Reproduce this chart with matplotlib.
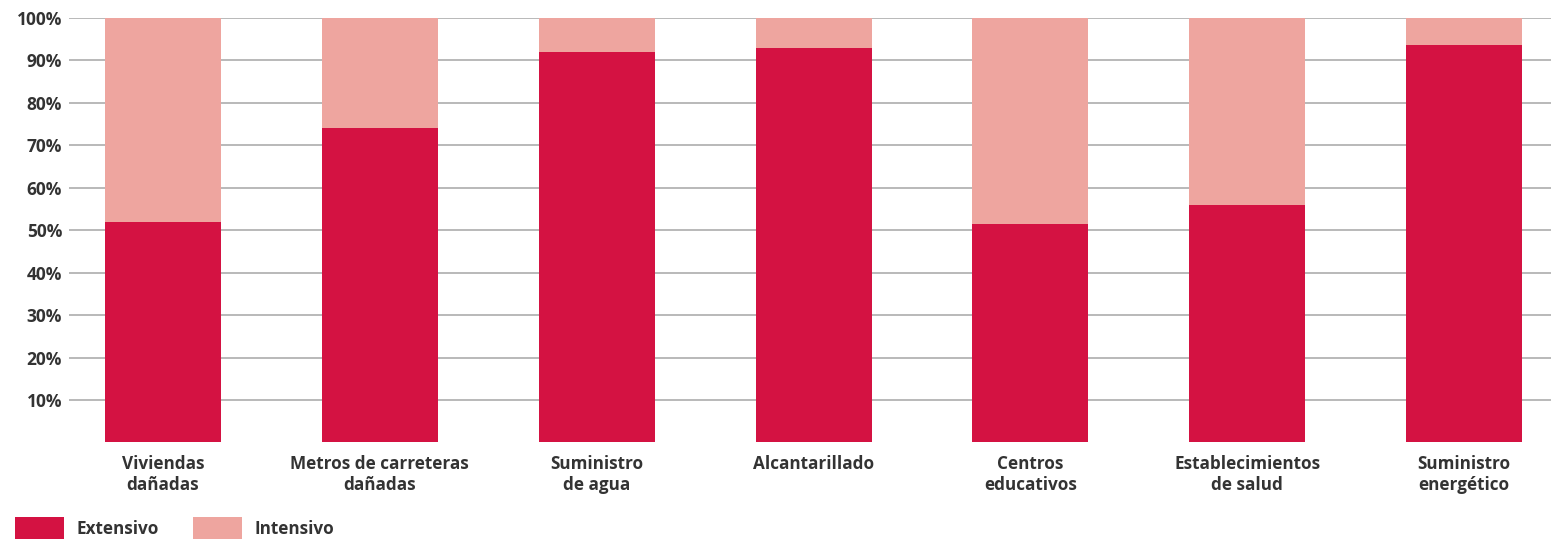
import numpy as np
import matplotlib.pyplot as plt
from matplotlib import ticker

categorias = ['Viviendas\ndañadas', 'Metros de carreteras\ndañadas', 'Suministro\nde agua',
              'Alcantarillado', 'Centros\neducativos', 'Establecimientos\nde salud',
              'Suministro\nenergético']
extensivo = [52, 74, 92, 93, 51.5, 56, 93.7]
intensivo = [100 - v for v in extensivo]

rojo = '#D41242'
rosa = '#EEA59F'

plt.rcParams['font.family'] = ['Open Sans', 'DejaVu Sans']
plt.rcParams['font.weight'] = 'bold'

fig = plt.figure(figsize=(15.51, 5.4), dpi=100)
ax = fig.add_axes([0.0445, 0.1806, 0.9555, 0.7861])

x = np.arange(len(categorias))
ax.bar(x, extensivo, width=0.535, color=rojo, label='Extensivo', zorder=3)
ax.bar(x, intensivo, width=0.535, bottom=extensivo, color=rosa, label='Intensivo', zorder=3)

ax.set_xlim(-0.433, 6.40)
ax.set_ylim(0, 100)
ax.set_yticks(np.arange(10, 101, 10))
ax.yaxis.set_major_formatter(ticker.FuncFormatter(lambda v, p: '{:d}%'.format(int(v))))
ax.grid(axis='y', color='#b3b3b3', linewidth=1.3, zorder=0)
ax.set_xticks(x)
ax.set_xticklabels(categorias, fontsize=12.3, color='#333333', fontweight='bold', linespacing=1.2)
for lab in ax.get_yticklabels():
    lab.set_fontsize(12.5)
    lab.set_color('#333333')
    lab.set_fontweight('bold')
ax.tick_params(axis='both', length=0)
ax.tick_params(axis='x', pad=9)
ax.tick_params(axis='y', pad=5)
for s in ax.spines.values():
    s.set_visible(False)

fig.legend(loc='lower left', bbox_to_anchor=(0.0, -0.027), ncol=2, frameon=False,
           fontsize=12.3, handlelength=2.85, handleheight=1.6, columnspacing=2.0,
           handletextpad=0.75, labelcolor='#333333')

fig.savefig('out.png', dpi=100)
